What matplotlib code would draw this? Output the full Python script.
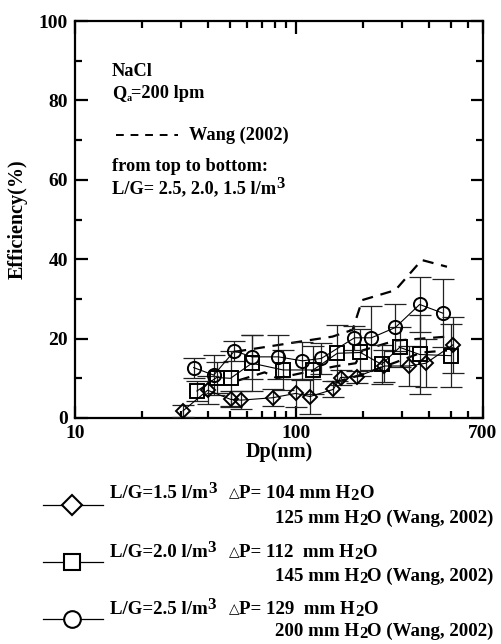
import matplotlib
matplotlib.use("Agg")
import matplotlib.pyplot as plt
from matplotlib.lines import Line2D
from matplotlib.ticker import FixedLocator, NullFormatter

plt.rcParams['font.family'] = ['Liberation Serif', 'DejaVu Sans']
plt.rcParams['font.weight'] = 'bold'

# ---- data ----
dia_x = [30.8, 39.8, 50.5, 56.3, 78.2, 99.7, 115.4, 147.2, 158.8, 188.8, 250.9, 325, 386, 511]
dia_y = [1.8, 7.0, 4.7, 4.5, 5.1, 6.2, 5.4, 7.2, 10.2, 10.4, 13.1, 13.1, 13.8, 18.4]
dia_e = [1.5, 3.5, 2.0, 2.3, 2.2, 3.5, 4.5, 2.0, 2.0, 1.5, 4.0, 5.0, 6.0, 7.0]

sq_x = [35.6, 43.7, 50.5, 63.1, 87.3, 119.4, 153.5, 195.4, 243.3, 294, 362, 501]
sq_y = [6.8, 10.2, 10.0, 13.8, 12.1, 12.1, 16.3, 16.5, 13.5, 17.8, 16.0, 15.7]
sq_e = [2.5, 4.0, 7.0, 7.0, 5.0, 6.0, 7.0, 6.0, 5.0, 5.0, 10.0, 8.0]

ci_x = [34.4, 42.4, 52.6, 63.1, 83.2, 106.7, 130, 183.6, 219, 281, 362, 461]
ci_y = [12.7, 10.8, 16.9, 15.4, 15.4, 14.4, 15.0, 20.2, 20.2, 22.8, 28.6, 26.4]
ci_e = [2.5, 5.0, 2.5, 5.5, 5.5, 4.8, 4.0, 3.0, 8.0, 6.0, 7.0, 8.5]

wang25_x = [53, 103, 146, 180, 199, 281, 370, 481]
wang25_y = [16.7, 19.2, 20.5, 22.2, 29.7, 32.2, 39.8, 38.1]
wang20_x = [55, 72, 82, 110, 150, 186, 199, 281, 370, 481]
wang20_y = [9.5, 11.5, 10.0, 11.5, 13.0, 13.8, 17.0, 19.5, 20.0, 20.5]
wang15_x = [150, 200, 281, 370, 481]
wang15_y = [9.0, 11.0, 14.0, 16.5, 17.0]

x_ticks = [10, 100, 700]
x_minor = [20, 30, 40, 50, 60, 70, 80, 90, 200, 300, 400, 500, 600]
y_ticks = [0, 20, 40, 60, 80, 100]
y_minor = [10, 30, 50, 70, 90]

legend_lg = ['1.5', '2.0', '2.5']
legend_dp = ['104 ', '112  ', '129  ']
legend_wang = ['125', '145', '200']

W, H = 502, 644
fig = plt.figure(figsize=(W / 100, H / 100), dpi=100)
ax = fig.add_axes([75 / W, 1 - 418 / H, 408 / W, 397 / H])
ax.set_xscale('log')
ax.set_xlim(10, 700)
ax.set_ylim(0, 100)

for s in ax.spines.values():
    s.set_linewidth(1.6)

ax.xaxis.set_major_locator(FixedLocator(x_ticks))
ax.xaxis.set_minor_locator(FixedLocator(x_minor))
ax.xaxis.set_minor_formatter(NullFormatter())
ax.set_xticklabels([str(v) for v in x_ticks])
ax.yaxis.set_major_locator(FixedLocator(y_ticks))
ax.yaxis.set_minor_locator(FixedLocator(y_minor))
ax.tick_params(which='both', direction='in', top=True, right=True, width=1.6, labelsize=14)
ax.tick_params(which='major', length=9, pad=5)
ax.tick_params(which='minor', length=5)
for lab in ax.get_xticklabels() + ax.get_yticklabels():
    lab.set_fontweight('bold')

ax.set_xlabel('Dp(nm)', fontsize=14.5, fontweight='bold', labelpad=0)
ax.set_ylabel('Efficiency(%)', fontsize=14.5, fontweight='bold', labelpad=8)

# dashed Wang (2002) lines
for xs, ys in [(wang25_x, wang25_y), (wang20_x, wang20_y), (wang15_x, wang15_y)]:
    ax.plot(xs, ys, color='black', lw=1.6, ls=(0, (5, 3.5)), zorder=2)

ms = 9.5
for xs, ys, es, mk in [(dia_x, dia_y, dia_e, 'D'), (sq_x, sq_y, sq_e, 's'), (ci_x, ci_y, ci_e, 'o')]:
    ax.errorbar(xs, ys, yerr=es, fmt='none', ecolor='#222222', elinewidth=0.9,
                capsize=8, capthick=0.9, zorder=3)
    ax.plot(xs, ys, color='black', lw=0.8, marker=mk,
            markersize=(ms * 0.8 if mk == 'D' else ms), markerfacecolor='none',
            markeredgecolor='black', markeredgewidth=1.4, zorder=4)

# overlay in pixel coordinates for the annotations
ov = fig.add_axes([0, 0, 1, 1], facecolor='none')
ov.set_xlim(0, W)
ov.set_ylim(H, 0)
ov.axis('off')
renderer = fig.canvas.get_renderer()


def rich(x, y, pieces, fs):
    """pieces: (text, scale, dy_px, family-or-None)"""
    for t, sc, dy, fam in pieces:
        kw = dict(fontsize=fs * sc, fontweight='bold', va='baseline', ha='left')
        if fam:
            kw['family'] = fam
        txt = ov.text(x, y + dy, t, **kw)
        bb = txt.get_window_extent(renderer=renderer)
        x += bb.width
    return x


fs = 13.2
rich(112, 76, [('NaCl', 1, 0, None)], fs)
rich(112, 98, [('Q', 1, 0, None), ('a', 0.55, 3, None), ('=200 lpm', 1, 0, None)], fs)
ov.add_line(Line2D([116, 178], [135, 135], color='black', lw=1.4, ls=(0, (4, 3.5))))
rich(189, 140, [('Wang (2002)', 1, 0, None)], fs)
rich(112, 171, [('from top to bottom:', 1, 0, None)], fs)
rich(112, 193, [('L/G= 2.5, 2.0, 1.5 l/m', 1, 0, None), ('3', 0.9, -5, None)], fs)

# legend below
markers = ['D', 's', 'o']
handle_y = [505, 562, 619]
base1 = [498, 557, 614]
base2 = [523, 581, 636]
fl = 13.6
for mk, lg, dp1, wg, yh, b1, b2 in zip(markers, legend_lg, legend_dp, legend_wang,
                                        handle_y, base1, base2):
    ov.add_line(Line2D([43, 103], [yh, yh], color='black', lw=0.9))
    ov.add_line(Line2D([72], [yh], marker=mk, markersize=(10.5 if mk == 'D' else 12),
                       markerfacecolor='white', markeredgecolor='black', markeredgewidth=1.5))
    rich(110, b1, [('L/G=' + lg + ' l/m', 1, 0, None), ('3', 0.9, -5, None)], fl)
    rich(229, b1, [('\u25b3', 0.72, -1, ['DejaVu Sans']),
                   ('P= ' + dp1 + 'mm H', 1, 0, None), ('2', 0.88, 2, None),
                   ('O', 1, 0, None)], fl)
    rich(275, b2, [(wg + ' mm H', 1, 0, None), ('2', 0.88, 2, None),
                   ('O (Wang, 2002)', 1, 0, None)], fl)

fig.savefig('out.png', dpi=100)
